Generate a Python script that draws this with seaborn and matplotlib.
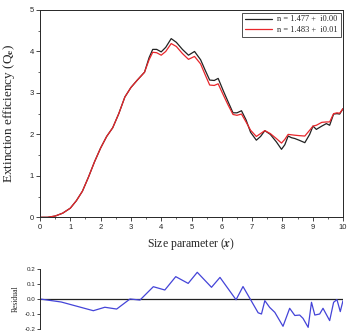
import matplotlib
matplotlib.use('Agg')
import matplotlib.pyplot as plt
from matplotlib.ticker import MultipleLocator
import numpy as np
import pandas as pd
import seaborn as sns

# size parameter and extinction efficiency
x_ext = [0, 0.25, 0.5, 0.75, 1.0, 1.2, 1.4, 1.6, 1.8, 2.0, 2.2, 2.4, 2.6, 2.8, 3.0, 3.2,
         3.45, 3.6, 3.72, 3.85, 4.0, 4.15, 4.33, 4.5, 4.7, 4.9, 5.1, 5.3, 5.45, 5.6,
         5.75, 5.88, 6.05, 6.2, 6.37, 6.5, 6.65, 6.8, 6.95, 7.14, 7.28, 7.42, 7.6, 7.8,
         7.97, 8.08, 8.19, 8.3, 8.41, 8.55, 8.74, 8.9, 9.01, 9.12, 9.3, 9.45, 9.56,
         9.69, 9.8, 9.89, 10]
q_nonabs = [0, 0.0, 0.03, 0.1, 0.22, 0.4, 0.63, 0.97, 1.34, 1.67, 1.95, 2.16, 2.5, 2.9, 3.13, 3.3,
            3.5, 3.85, 4.05, 4.05, 3.99, 4.1, 4.31, 4.22, 4.05, 3.91, 4.0, 3.8, 3.55, 3.31,
            3.3, 3.35, 3.05, 2.8, 2.52, 2.52, 2.57, 2.35, 2.05, 1.86, 1.95, 2.09, 2.0, 1.82,
            1.64, 1.75, 1.96, 1.92, 1.9, 1.86, 1.80, 2.0, 2.2, 2.12, 2.2, 2.26, 2.22,
            2.49, 2.5, 2.49, 2.62]
q_abs = [0, 0.0, 0.03, 0.1, 0.22, 0.4, 0.63, 0.97, 1.34, 1.67, 1.95, 2.16, 2.5, 2.9, 3.13, 3.3,
         3.5, 3.8, 3.98, 3.97, 3.91, 4.0, 4.19, 4.12, 3.95, 3.81, 3.88, 3.7, 3.44, 3.19,
         3.18, 3.22, 2.95, 2.72, 2.48, 2.46, 2.49, 2.3, 2.1, 1.95, 2.02, 2.09, 2.02, 1.9,
         1.79, 1.88, 2.0, 1.99, 1.98, 1.97, 1.96, 2.1, 2.2, 2.22, 2.29, 2.3, 2.3,
         2.5, 2.52, 2.51, 2.62]
labels = ['n = 1.477 +  i0.00', 'n = 1.483 +  i0.01']

# residual panel
x_res = [0, 0.7, 1.76, 2.14, 2.53, 2.97, 3.3, 3.74, 4.12, 4.48, 4.89, 5.19, 5.66, 5.94,
         6.47, 6.70, 7.2, 7.31, 7.42, 7.58, 7.75, 8.02, 8.24, 8.41, 8.57, 8.68, 8.85,
         8.96, 9.07, 9.23, 9.34, 9.56, 9.69, 9.80, 9.91, 10.0]
resid = [0, -0.02, -0.078, -0.055, -0.067, 0.0, -0.007, 0.082, 0.06, 0.149, 0.104, 0.178,
         0.078, 0.144, -0.005, 0.083, -0.092, -0.1, -0.011, -0.056, -0.089, -0.182,
         -0.062, -0.11, -0.107, -0.129, -0.189, -0.022, -0.107, -0.1, -0.062, -0.144,
         -0.022, -0.004, -0.084, -0.011]

sns.set_style('ticks')
plt.rcParams['font.family'] = ['Liberation Sans', 'DejaVu Sans']
plt.rcParams['mathtext.fontset'] = 'stix'

df = pd.DataFrame({
    'x': x_ext * 2,
    'q': q_nonabs + q_abs,
    'case': [labels[0]] * len(x_ext) + [labels[1]] * len(x_ext),
})

fig = plt.figure(figsize=(3.51, 3.31), dpi=100)
ax = fig.add_axes([40 / 351, 1 - 217.3 / 331, 303 / 351, 207.3 / 331])
sns.lineplot(data=df, x='x', y='q', hue='case', palette=['#222222', '#e8262b'],
             sort=False, linewidth=0.9, ax=ax)

ax.set_xlim(0, 10)
ax.set_ylim(0, 5)
ax.xaxis.set_major_locator(MultipleLocator(1))
ax.xaxis.set_minor_locator(MultipleLocator(0.5))
ax.yaxis.set_major_locator(MultipleLocator(1))
ax.yaxis.set_minor_locator(MultipleLocator(0.5))
ax.tick_params(which='major', direction='out', length=3, width=0.6, labelsize=5.5, pad=1.5)
ax.tick_params(which='minor', direction='out', length=1.6, width=0.5)
for s in ax.spines.values():
    s.set_linewidth(0.7)
    s.set_visible(True)

ax.set_xlabel(r'Size parameter ($\mathbfit{x}$)', family='Liberation Serif', fontsize=8.5, labelpad=4)
ax.set_ylabel(r'Extinction efficiency (Q$_\mathbf{e}$)', family='Liberation Serif', fontsize=9.5, labelpad=9)

leg = ax.legend(loc='upper right', prop={'family': 'Liberation Serif', 'size': 6},
                frameon=True, fancybox=False, edgecolor='#222222', handlelength=3.2,
                borderpad=0.35, labelspacing=0.3, borderaxespad=0.3, handletextpad=0.6)
leg.get_frame().set_linewidth(0.7)
for ln in leg.get_lines():
    ln.set_linewidth(0.9)

# residual axes
axr = fig.add_axes([40 / 351, 1 - 329 / 331, 303 / 351, 60 / 331])
axr.axhline(0, color='#222222', linewidth=0.9)
sns.lineplot(x=x_res, y=resid, color='#4444d8', linewidth=0.9, sort=False, ax=axr)
axr.set_xlim(0, 10)
axr.set_ylim(-0.2, 0.2)
axr.set_yticks([-0.2, -0.1, 0.0, 0.1, 0.2])
axr.set_yticklabels(['-0.2', '-0.1', '0.0', '0.1', '0.2'])
axr.tick_params(axis='y', direction='out', length=2.5, width=0.6, labelsize=4.5, pad=1)
axr.set_xticks([])
for side in ['top', 'right', 'bottom']:
    axr.spines[side].set_visible(False)
axr.spines['left'].set_linewidth(0.7)
axr.set_ylabel('Residual', family='Liberation Serif', fontsize=5.5, labelpad=3)

fig.savefig('out.png', dpi=100)
